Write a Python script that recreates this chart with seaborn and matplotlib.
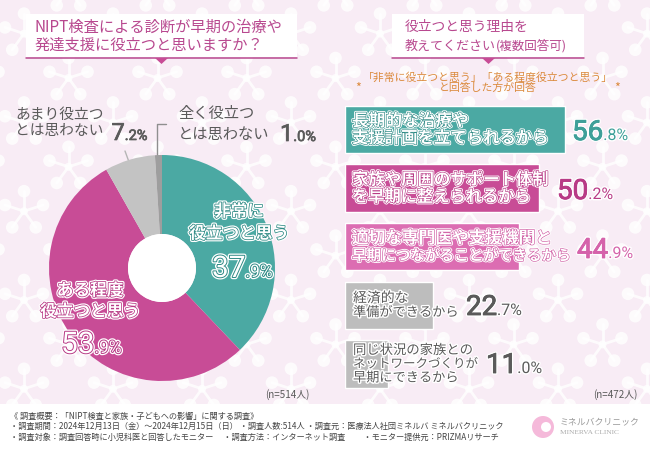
import numpy as np
import pandas as pd
import seaborn as sns
import matplotlib
matplotlib.use("Agg")
import matplotlib.pyplot as plt
import matplotlib.patheffects as pe
from matplotlib.patches import Circle, Rectangle, Polygon

sns.set_theme(style="white")
plt.rcParams["font.family"] = ["Noto Sans CJK JP", "DejaVu Sans"]

# -----------------------------------------------
# data
# -----------------------------------------------
pie_labels = ["非常に\n役立つと思う", "ある程度\n役立つと思う", "あまり役立つ\nとは思わない", "全く役立つ\nとは思わない"]
pie_values = [37.9, 53.9, 7.2, 1.0]
pie_colors = ["#4BA9A3", "#C84C96", "#C3C3C3", "#9E9E9E"]

bar_labels = [
    "長期的な治療や\n支援計画を立てられるから",
    "家族や周囲のサポート体制\nを早期に整えられるから",
    "適切な専門医や支援機関と\n早期につながることができるから",
    "経済的な\n準備ができるから",
    "同じ状況の家族との\nネットワークづくりが\n早期にできるから",
]
bar_values = [56.8, 50.2, 44.9, 22.7, 11.0]
bar_colors = ["#4BA9A3", "#C84C96", "#DC6DB2", "#BDBDBD", "#BDBDBD"]

title_left = "NIPT検査による診断が早期の治療や\n発達支援に役立つと思いますか？"
title_right = ["役立つと思う理由を", "教えてください", "(複数回答可)"]
note_right = "「非常に役立つと思う」「ある程度役立つと思う」\nと回答した方が回答"
footer_lines = [
    "《 調査概要：「NIPT検査と家族・子どもへの影響」に関する調査》",
    "・調査期間：2024年12月13日（金）～2024年12月15日（日） ・調査人数:514人 ・調査元：医療法人社団ミネルバ ミネルバクリニック",
    "・調査対象：調査回答時に小児科医と回答したモニター　 ・調査方法：インターネット調査　　 ・モニター提供元：PRIZMAリサーチ",
]

PINK = "#B8488F"
GREY = "#5A5A5A"

fig = plt.figure(figsize=(6.5, 4.5), dpi=100)
bg = fig.add_axes([0, 0, 1, 1], zorder=0)
bg.set_xlim(0, 650)
bg.set_ylim(450, 0)
bg.axis("off")
bg.add_patch(Rectangle((0, 0), 650, 450, color="#F8ECF5", lw=0))


def flower(cx, cy, r=20):
    # 背景の花模様（5枚）
    for k in range(5):
        a = -np.pi / 2 + k * 2 * np.pi / 5
        x, y = cx + r * np.cos(a), cy + r * np.sin(a)
        bg.plot([cx, x], [cy, y], color="white", lw=2, alpha=0.8, zorder=1)
        bg.add_patch(Circle((x, y), 6.3, color="white", alpha=0.8, lw=0, zorder=1))
    bg.add_patch(Circle((cx, cy), 4, color="white", alpha=0.8, lw=0, zorder=1))


for i in range(-2, 14):
    for j in range(-3, 8):
        if (i + j) % 2 == 0:
            flower(558 - 44.5 * i, 300 - 44.4 * j)

# footer band
bg.add_patch(Rectangle((0, 404), 650, 46, color="white", lw=0, zorder=2))

# title boxes
bg.add_patch(Rectangle((26, 14), 271, 43, color="white", lw=0, zorder=2))
bg.plot([26, 297], [57.5, 57.5], color=PINK, lw=1.1, zorder=3)
bg.add_patch(Polygon([[155, 58], [168, 58], [161.5, 64]], color="#C84C96", lw=0, zorder=3))
bg.add_patch(Rectangle((392, 14), 192, 43, color="white", lw=0, zorder=2))
bg.plot([392, 584], [57.5, 57.5], color=PINK, lw=1.1, zorder=3)
bg.add_patch(Polygon([[482, 58], [495, 58], [488.5, 64]], color="#C84C96", lw=0, zorder=3))

bg.text(35, 36, title_left, color=PINK, fontsize=11, va="center", ha="left",
        linespacing=1.1, zorder=4)
bg.text(405, 27, title_right[0], color=PINK, fontsize=9.9, va="center", ha="left", zorder=4)
bg.text(405, 46, title_right[1], color=PINK, fontsize=9.4, va="center", ha="left", zorder=4)
bg.text(496, 46, title_right[2], color=PINK, fontsize=9, va="center", ha="left", zorder=4)
bg.text(487.5, 83, note_right, color="#DB8A3C", fontsize=7.8, va="center", ha="center",
        linespacing=1.0, zorder=4)
bg.text(358, 88, "*", color="#DB8A3C", fontsize=9, va="center", ha="center", zorder=4)
bg.text(617, 88, "*", color="#DB8A3C", fontsize=9, va="center", ha="center", zorder=4)

# -----------------------------------------------
# pie
# -----------------------------------------------
pie_ax = fig.add_axes([49 / 650, 1 - 381 / 450, 226 / 650, 226 / 450], zorder=2)
pie_ax.pie(pie_values, colors=pie_colors, startangle=90, counterclock=False,
           wedgeprops={"width": 1 - 34 / 113, "linewidth": 0})
pie_ax.set_xlim(-1, 1)
pie_ax.set_ylim(-1, 1)
pie_ax.add_patch(Circle((0, 0), 34 / 113, color="white", lw=0))

# leader lines
bg.plot([125, 129], [151, 162], color="#B5B5B5", lw=1, zorder=3)
bg.plot([166, 157, 157], [124, 124, 156], color="#8F8F8F", lw=1, zorder=3)

# -----------------------------------------------
# bars
# -----------------------------------------------
bar_df = pd.DataFrame({"label": bar_labels, "value": bar_values})
bar_ax = fig.add_axes([345 / 650, 1 - 393.3 / 450, 300 / 650, 293.1 / 450], zorder=2)
bar_ax.patch.set_alpha(0)
sns.barplot(data=bar_df, x="value", y="label", hue="label", palette=bar_colors,
            legend=False, width=0.81, saturation=1, ax=bar_ax)
bar_ax.set_xlim(0, 300 / 3.87)
bar_ax.set_ylim(4.5, -0.5)
bar_ax.axis("off")

# -----------------------------------------------
# overlay text
# -----------------------------------------------
top = fig.add_axes([0, 0, 1, 1], zorder=5)
top.set_xlim(0, 650)
top.set_ylim(450, 0)
top.axis("off")
top.patch.set_alpha(0)


def rim(inner, w_in, outer=None, w_out=0):
    # 白文字 + 色のふち + 外側の白
    eff = []
    if outer:
        eff.append(pe.withStroke(linewidth=w_out, foreground=outer))
    eff.append(pe.withStroke(linewidth=w_in, foreground=inner))
    return eff


def pct(x, y, value, color, big, small, effects=None, small_effects=None):
    # 大きい整数部 + 小さい小数部
    whole, dec = f"{value:.1f}".split(".")
    t1 = top.text(x, y, whole, fontsize=big, color=color, va="baseline", ha="left",
                  family="Roboto", path_effects=effects)
    fig.canvas.draw()
    bb = t1.get_window_extent()
    top.text(bb.x1 * 650 / fig.bbox.width, y, f".{dec}%", fontsize=small, color=color,
             va="baseline", ha="left", family="Roboto", path_effects=small_effects or effects)


# pie labels
top.text(239, 222.5, pie_labels[0], color="white", fontsize=12, ha="center", va="center",
         linespacing=1.3, fontweight="bold", path_effects=rim("#2F8A85", 1.1, "white", 2.8))
pct(212, 277, pie_values[0], "white", 21.5, 12.5, rim("#2F8A85", 1.4, "white", 3.2))
top.text(90, 301, pie_labels[1], color="white", fontsize=12, ha="center", va="center",
         linespacing=1.22, fontweight="bold", path_effects=rim("#B83A86", 1.1, "white", 2.8))
pct(61, 353, pie_values[1], "white", 21.5, 12.5, rim("#B83A86", 1.4, "white", 3.2))

solid_fx = [pe.withStroke(linewidth=0.5, foreground=GREY)]
top.text(15, 123, pie_labels[2], color=GREY, fontsize=10.6, ha="left", va="center", linespacing=1.27)
pct(111.5, 140, pie_values[2], GREY, 17, 10.5, solid_fx, [])
top.text(178, 124, pie_labels[3], color=GREY, fontsize=11, ha="left", va="center", linespacing=1.25)
pct(280, 141, pie_values[3], GREY, 17, 10.5, solid_fx, [])

# bar labels and percentages
bar_rims = ["#2F8A85", "#B83A86", "#D05EA5", None, None]
bar_line_fs = [[12, 11.8], [11.8, 11.7], [12, 10.5], [10, 9.5], [9.6, 9, 9.5]]
bar_line_gap = [17, 17, 17, 14.5, 14]
pct_starts = [572, 557, 577, 466, 486]
pct_colors = ["#3E9F99", "#B83A86", "#D563AB", GREY, GREY]
pct_base = [140, 199, 258, 315, 373]
for i, (lab, val) in enumerate(zip(bar_labels, bar_values)):
    cy = 450 - bar_ax.transData.transform((0, i))[1]
    lines = lab.split("\n")
    for k, line in enumerate(lines):
        yy = cy + (k - (len(lines) - 1) / 2) * bar_line_gap[i]
        if bar_rims[i]:
            top.text(352, yy, line, color="white", fontsize=bar_line_fs[i][k], ha="left", va="center",
                     fontweight="bold", path_effects=rim(bar_rims[i], 0.9, "white", 2.2))
        else:
            top.text(353, yy, line, color=GREY, fontsize=bar_line_fs[i][k], ha="left", va="center",
                     path_effects=[pe.withStroke(linewidth=2, foreground="white")])
    pct(pct_starts[i], pct_base[i], val, pct_colors[i], 20, 11.5,
        [pe.withStroke(linewidth=2.4, foreground="white"), pe.withStroke(linewidth=0.6, foreground=pct_colors[i])],
        [pe.withStroke(linewidth=2, foreground="white")])

top.text(265, 395, "(n=514人)", color=GREY, fontsize=7.1, ha="left", va="center")
top.text(593, 395, "(n=472人)", color=GREY, fontsize=7.1, ha="left", va="center")

for yy, line in zip([416, 426.5, 437], footer_lines):
    top.text(10, yy, line, color="#444444", fontsize=5.9, ha="left", va="center")

# logo
top.add_patch(Circle((543, 427), 11, color="#F5B9DA", lw=0))
top.add_patch(Circle((546, 427), 5, color="white", lw=0))
top.text(560, 422, "ミネルバクリニック", color="#9A9A9A", fontsize=6.4, ha="left", va="center")
top.text(560, 432, "MINERVA CLINIC", color="#ABABAB", fontsize=5.3, ha="left", va="center", family="Liberation Serif")

fig.savefig("out.png", dpi=100)
